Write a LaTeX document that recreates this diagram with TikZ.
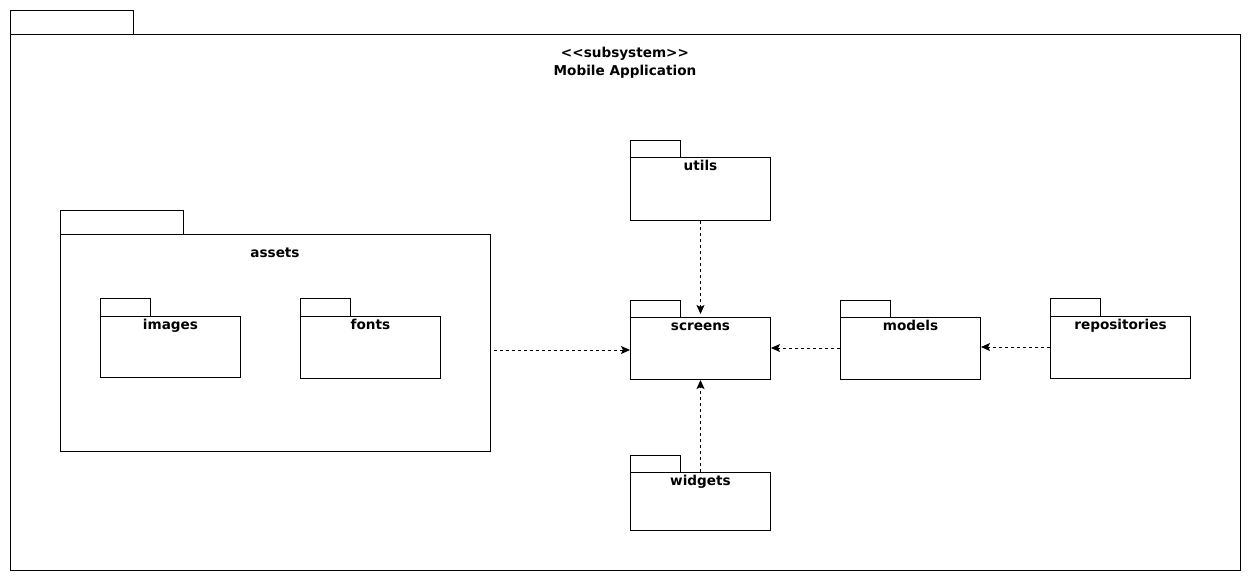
\documentclass[tikz,border=0pt]{standalone}
\usepackage{fontspec}
\setmainfont{DejaVu Sans}
\usetikzlibrary{arrows.meta}
\tikzset{
  pkgbody/.style={draw=black, line width=1pt, fill=white, rectangle, inner sep=0pt},
  pkgtab/.style={draw=black, line width=1pt},
  pkgtxt/.style={font=\bfseries\fontsize{13.6}{15}\selectfont, inner sep=0pt, anchor=base},
  dep/.style={draw=black, line width=0.9pt, dash pattern=on 3pt off 3pt,
              -{Stealth[length=9pt,width=8pt,inset=2pt]}}
}
% UML package: name, left x, body top y, width, height, tab width, tab height, label
\newcommand\umlpkg[8]{%
  \draw[pkgtab] (#2,#3) rectangle ++(#6,-#7);
  \node[pkgbody, anchor=north west, minimum width=#4pt, minimum height=#5pt] (#1) at (#2,#3) {};
  \node[pkgtxt] (#1-name) at ([yshift=-13.5pt]#1.north) {#8};
}
\begin{document}
\begin{tikzpicture}[x=1pt, y=-1pt]
  \useasboundingbox (0,0) rectangle (1251,582);
  \fill[white] (0,0) rectangle (1251,582);

  % outer subsystem package
  \umlpkg{app}{10}{34}{1230}{536}{123}{24}{}
  \node[pkgtxt] (stereo) at (625,57) {<{}<subsystem>{}>};
  \node[pkgtxt] (apptitle) at (625,75) {Mobile Application};

  % assets and its sub-packages
  \umlpkg{assets}{60}{234}{430}{217}{123}{24}{}
  \node[pkgtxt] (assets-name) at (275,257) {assets};
  \umlpkg{images}{100}{316}{140}{61}{50}{18}{images}
  \umlpkg{fonts}{300}{316}{140}{62}{50}{18}{fonts}

  % application packages
  \umlpkg{utils}{630}{157}{140}{63}{50}{17}{utils}
  \umlpkg{screens}{630}{317}{140}{62}{50}{17}{screens}
  \umlpkg{models}{840}{317}{140}{62}{50}{17}{models}
  \umlpkg{repos}{1050}{316}{140}{62}{50}{18}{repositories}
  \umlpkg{widgets}{630}{472}{140}{58}{50}{17}{widgets}

  % dependencies
  \draw[dep] ([xshift=3pt]assets.east |- 0,350) -- (screens.west |- 0,350);
  \draw[dep] (models.west |- 0,348) -- (screens.east |- 0,348);
  \draw[dep] (repos.west |- 0,347) -- (models.east |- 0,347);
  \draw[dep] (utils.south) -- ([yshift=3pt]screens.north);
  \draw[dep] (widgets.north) -- (screens.south);
\end{tikzpicture}
\end{document}
